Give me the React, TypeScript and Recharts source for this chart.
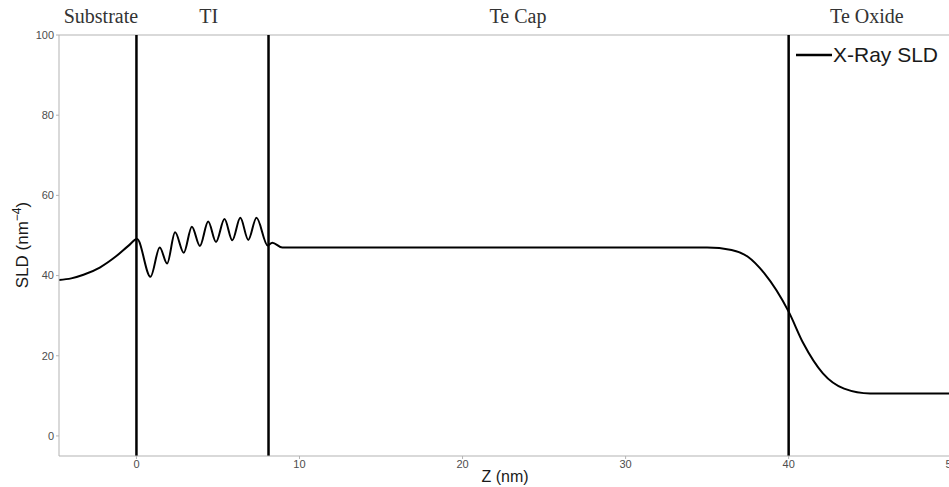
import React from 'react';
import { LineChart, Line, XAxis, YAxis, ReferenceLine, Legend } from 'recharts';

// depth (nm) and X-ray SLD profile
const zPositions = [
  -4.75, -4.0, -3.25, -2.25, -1.25, -0.5, 0.04, 0.86, 1.43, 1.88, 2.37, 2.9, 3.4,
  3.89, 4.4, 4.88, 5.4, 5.88, 6.37, 6.86, 7.36, 8.05, 8.33, 8.95, 15, 25, 35.0,
  36.5, 37.5, 38.5, 40.0, 40.9, 42.1, 43.4, 45.0, 47.0, 51.0,
];
const sldValues = [
  38.9, 39.3, 40.2, 42.0, 44.8, 47.4, 49.1, 39.7, 47.0, 43.0, 50.8, 45.7, 52.2,
  47.4, 53.5, 48.4, 54.1, 48.8, 54.4, 48.9, 54.4, 47.5, 48.2, 47.0, 47.0, 47.0, 47.0,
  46.4, 44.7, 40.6, 31.0, 23.1, 15.6, 11.8, 10.6, 10.6, 10.6,
];

const layerBoundaries = [0, 8.1, 40];
const layerNames = ['Substrate', 'TI', 'Te Cap', 'Te Oxide'];
const layerNameZ = [-2.18, 4.43, 23.4, 44.8];

const xTicks = [0, 10, 20, 30, 40, 50];
const yTicks = [0, 20, 40, 60, 80, 100];

const data = zPositions.map((z, i) => ({ z, sld: sldValues[i] }));

const SANS = '"Liberation Sans", Arial, sans-serif';
const SERIF = '"Liberation Serif", "Times New Roman", serif';
const AXIS_GREY = '#b3b3b3';

const tickStyle = { fontSize: 11, fill: '#4d4d4d', fontFamily: SANS };

const renderXTitle = () => (
  <text x={505} y={482} textAnchor="middle" fontSize={16} fontFamily={SANS} fill="#1a1a1a">
    Z (nm)
  </text>
);

const renderYTitle = () => (
  <text
    x={28}
    y={245}
    transform="rotate(-90, 28, 245)"
    textAnchor="middle"
    fontSize={17}
    fontFamily={SANS}
    fill="#1a1a1a"
  >
    <tspan>SLD (nm</tspan>
    <tspan dy={-7} fontSize={12}>−4</tspan>
    <tspan dy={7}>)</tspan>
  </text>
);

const renderLegend = () => (
  <div style={{ display: 'flex', alignItems: 'center', fontFamily: SANS }}>
    <svg width={38} height={20}>
      <line x1={1} y1={10} x2={37} y2={10} stroke="#000" strokeWidth={2.5} />
    </svg>
    <span style={{ fontSize: 21, color: '#1a1a1a', whiteSpace: 'nowrap' }}>X-Ray SLD</span>
  </div>
);

export default function App() {
  return (
    <div
      style={{
        position: 'absolute',
        left: 0,
        top: 0,
        width: 949,
        height: 487,
        overflow: 'hidden',
        background: '#fff',
      }}
    >
      <LineChart
        width={976}
        height={487}
        data={data}
        margin={{ top: 35, right: 8, bottom: 0, left: 0 }}
      >
        <XAxis
          type="number"
          dataKey="z"
          domain={[-4.75, 51]}
          ticks={xTicks}
          allowDataOverflow
          height={31}
          tickSize={3}
          tickMargin={1}
          stroke={AXIS_GREY}
          tick={tickStyle}
          label={renderXTitle}
        />
        <YAxis
          type="number"
          domain={[-5, 100]}
          ticks={yTicks}
          allowDataOverflow
          width={59}
          tickSize={3}
          tickMargin={2}
          stroke={AXIS_GREY}
          tick={tickStyle}
          label={renderYTitle}
        />
        <ReferenceLine y={100} stroke={AXIS_GREY} strokeWidth={1} />
        {layerNames.map((name, i) => (
          <ReferenceLine
            key={name}
            x={layerNameZ[i]}
            stroke="none"
            label={{
              value: name,
              position: 'top',
              offset: 12,
              fill: '#333',
              fontSize: 20,
              fontFamily: SERIF,
            }}
          />
        ))}
        {layerBoundaries.map((z) => (
          <ReferenceLine key={z} x={z} stroke="#000" strokeWidth={2.5} />
        ))}
        <Line
          type="monotone"
          dataKey="sld"
          stroke="#000"
          strokeWidth={2}
          dot={false}
          isAnimationActive={false}
        />
        <Legend
          layout="vertical"
          align="center"
          verticalAlign="middle"
          content={renderLegend}
          wrapperStyle={{ left: 795, top: 43, width: 'auto' }}
        />
      </LineChart>
    </div>
  );
}
